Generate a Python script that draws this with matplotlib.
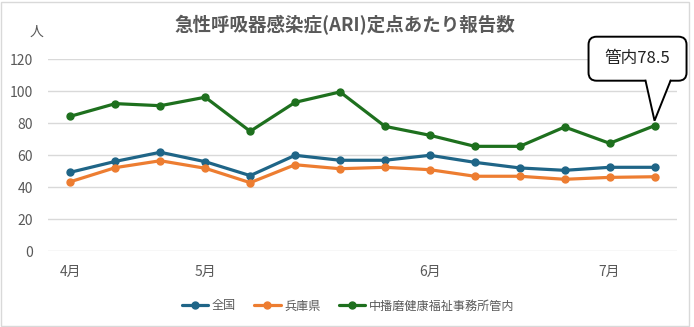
import matplotlib
matplotlib.use("Agg")
import matplotlib.pyplot as plt
from matplotlib.patches import Rectangle, FancyBboxPatch, Polygon
from matplotlib.lines import Line2D
from matplotlib.transforms import IdentityTransform, ScaledTranslation

plt.rcParams['font.family'] = ['Noto Sans CJK JP', 'DejaVu Sans']

# ---- data ----
weeks = list(range(14))
month_tick_idx = [0, 3, 8, 12]
month_labels = ["4月", "5月", "6月", "7月"]
zenkoku = [49.4, 56.2, 61.9, 56.0, 47.3, 60.0, 56.9, 56.9, 60.0, 55.6, 52.1, 50.6, 52.5, 52.5]
hyogo = [43.5, 52.3, 56.6, 51.9, 42.9, 54.1, 51.6, 52.5, 51.0, 46.9, 46.9, 45.0, 46.2, 46.6]
nakaharima = [84.4, 92.3, 91.0, 96.3, 75.0, 93.1, 99.6, 78.1, 72.5, 65.6, 65.6, 77.7, 67.5, 78.5]
series_names = ["全国", "兵庫県", "中播磨健康福祉事務所管内"]
yticks = [0, 20, 40, 60, 80, 100, 120]
title = "急性呼吸器感染症(ARI)定点あたり報告数"
callout_text = "管内78.5"

colors = ["#1F6587", "#ED7D31", "#1E701E"]
gray = "#595959"

W, H = 694, 327
fig = plt.figure(figsize=(W / 100, H / 100), dpi=100)
ax = fig.add_axes([48 / W, 1 - 251.3 / H, (677 - 48) / W, (251.3 - 59.3) / H])

for vals, name, c in zip([zenkoku, hyogo, nakaharima], series_names, colors):
    ax.plot(weeks, vals, color=c, lw=2.3, marker="o", markersize=5, label=name,
            solid_capstyle="round", zorder=3)

ax.set_xlim(-0.5, len(weeks) - 0.5)
ax.set_ylim(0, 120)
ax.set_yticks(yticks)
ax.set_yticklabels([str(v) for v in yticks])
ax.set_xticks(month_tick_idx)
ax.set_xticklabels(month_labels)
ax.tick_params(axis="both", length=0, colors=gray, labelsize=10)
ax.tick_params(axis="y", pad=11)
ax.tick_params(axis="x", pad=10)
ax.grid(axis="y", color="#D9D9D9", lw=1)
ax.set_axisbelow(True)
for s in ax.spines.values():
    s.set_visible(False)

fig.text(345 / W, 1 - 25 / H, title, ha="center", va="center", fontsize=13.3,
         fontweight="bold", color=gray)
fig.text(37 / W, 1 - 32 / H, "人", ha="center", va="center", fontsize=10, color=gray)

# ---- callout anchored (in pixels) to the last green point ----
anchor = IdentityTransform() + ScaledTranslation(weeks[-1], nakaharima[-1], ax.transData)
box = FancyBboxPatch((-66, 45), 98, 44, boxstyle="round,pad=0,rounding_size=8",
                     fc="white", ec="black", lw=1.4, transform=anchor,
                     clip_on=False, zorder=6)
fig.add_artist(box)
ptr_fill = Polygon([(-9, 47), (16, 47), (0, 5)], closed=True, fc="white", ec="none",
                   transform=anchor, clip_on=False, zorder=7)
fig.add_artist(ptr_fill)
ptr_edge = Line2D([-9, 0, 16], [45, 5, 45], color="black", lw=1.4,
                  transform=anchor, clip_on=False, zorder=8, solid_joinstyle="miter")
fig.add_artist(ptr_edge)
fig.text(-17, 67, callout_text, transform=anchor, ha="center", va="center",
         fontsize=12, color="#222222", zorder=9)

fig.legend(loc="center", bbox_to_anchor=(348 / W, 1 - 306 / H), ncol=3,
           frameon=False, fontsize=8.7, handlelength=2.2, handletextpad=0.3,
           columnspacing=1.5, labelcolor=gray)

fig.patches.append(Rectangle((1 / W, 1 / H), (W - 6) / W, (H - 3) / H,
                             transform=fig.transFigure, fill=False,
                             ec="#D9D9D9", lw=1))

fig.savefig("out.png", dpi=100)
